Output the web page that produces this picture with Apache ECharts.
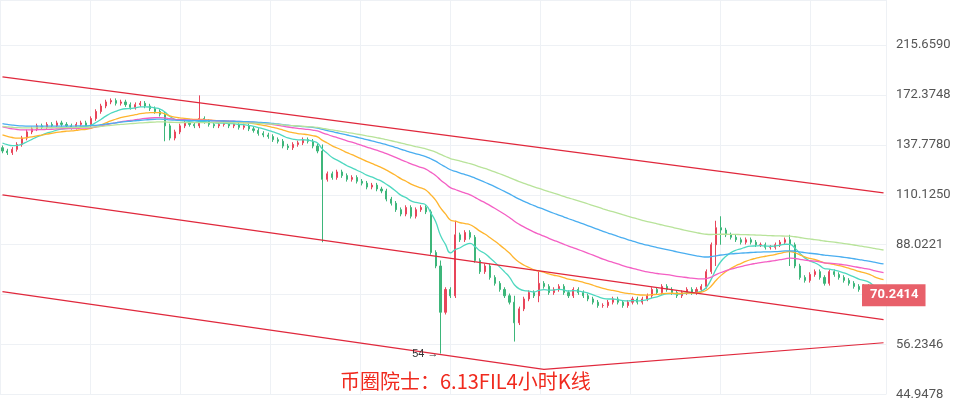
<!DOCTYPE html>
<html><head><meta charset="utf-8">
<script src="https://cdn.jsdelivr.net/npm/echarts@6/dist/echarts.min.js"></script>
<style>html,body{margin:0;padding:0;background:#fff}#c{width:956px;height:401px}</style>
</head><body><div id="c"></div>
<script>
// closing prices, 180 four-hour candles
const closes = [
134,133,135,138,142,146,148,150,149,151,
150,152,151,150,149,151,152,150,155,160,
164,167,168,166,167,165,163,165,166,164,
162,160,158,150,142,146,150,152,151,150,
155,153,151,150,151,152,150,151,149,150,
148,147,145,144,143,141,140,137,136,138,
139,141,140,137,134,118,121,119,122,120,
118,119,117,116,114,115,113,112,108,106,
103,101,104,100,103,104,102,85,80,65,
72,70,92,90,93,91,82,78,80,76,
74,72,70,68,62,66,69,71,70,74,
73,71,72,73,71,70,72,71,70,69,
68,67,67,68,69,68,67,68,69,68,
69,70,72,71,73,72,71,70,71,72,
71,72,73,78,88,95,94,92,91,90,
89,90,89,88,88,87,87,88,89,90,
88,80,76,75,77,78,76,74,78,77,
76,75,74,73,72,73,72,68,69,70.2414];
const firstOpen = 136;
// notable wick extremes: [index, low, high]
const wicks = [[40,150,172],[33,140,159],[65,89,138],[89,54,82],[92,70,98],[104,57,70],[109,68,78],[146,88,100],[145,80,98],[160,80,92],[178,67,71]];
const emaPeriods = [10,22,45,70,100];
const emaSeeds = [140,145,150,152,150];
const maColors = ['#4fd8c0','#ffb52e','#f45fc4','#4aaef0','#b8e39a'];
const channelUpper = [186.9,111.1];
const channelMiddle = [110.1,62.9];
const channelLower = [71.3,50.3,56.7]; // at idx 0, 110, 179
const tickLabels = ['44.9478','56.2346','','88.0221','110.1250','137.7780','172.3748','215.6590'];
const tickBase = 56.2346, tickRatio = 1.25111;
const titleText = '币圈院士：6.13FIL4小时K线';

const L = v => Math.log(v/tickBase)/Math.log(tickRatio);
const n = closes.length;
const cats = closes.map((_, i) => i);
const wickMap = {}; wicks.forEach(w => wickMap[w[0]] = w);
const kdata = closes.map((c, i) => {
  const o = i ? closes[i-1] : firstOpen;
  let lo = Math.min(o,c)*0.99, hi = Math.max(o,c)*1.01;
  if (wickMap[i]) { lo = Math.min(lo, wickMap[i][1]); hi = Math.max(hi, wickMap[i][2]); }
  return [L(o), L(c), L(lo), L(hi)];
});
const maSeries = emaPeriods.map((p, k) => {
  const a = 2/(p+1); let e = emaSeeds[k];
  const d = closes.map(c => { e = e + a*(c-e); return L(e); });
  return {type:'line', data:d, showSymbol:false, smooth:true, lineStyle:{width:1.3,color:maColors[k]}, z:3, silent:true};
});
function chan(vals, idxs){
  const d = new Array(n).fill(null);
  idxs.forEach((ix,j)=> d[ix] = L(vals[j]));
  return {type:'line', data:d, connectNulls:true, showSymbol:false, lineStyle:{color:'#e0283c',width:1.2}, z:4, silent:true};
}
const chart = echarts.init(document.getElementById('c'));
chart.setOption({
  animation:false,
  title:{text:titleText, left:335, top:366, textStyle:{color:'#f02a1e', fontSize:20, fontWeight:'normal', fontFamily:'Noto Sans CJK SC'}},
  grid:{left:0, right:70, top:0, bottom:6},
  xAxis:[{type:'category', data:cats, boundaryGap:true, show:false},
         {type:'value', min:-43, max:843, interval:90, show:true, axisLine:{show:false}, axisTick:{show:false}, axisLabel:{show:false}, splitLine:{show:true, lineStyle:{color:'#eef1f5'}}}],
  yAxis:{type:'value', position:'right', min:-1, max:6.9, interval:1,
    axisLine:{show:false}, axisTick:{show:false},
    splitLine:{lineStyle:{color:'#eef1f5'}},
    axisLabel:{margin:10, color:'#555', fontSize:13, fontFamily:'Roboto', showMaxLabel:false,
      formatter:v => tickLabels[Math.round(v)+1] || ''}},
  series:[
    {type:'candlestick', data:kdata, barWidth:1.6, z:2,
     itemStyle:{color:'#e8455a', color0:'#3db67a', borderColor:'#e8455a', borderColor0:'#3db67a', borderWidth:1},
     markPoint:{symbol:'circle', symbolSize:0, data:[{coord:[89, L(54)], label:{show:true, formatter:'54 →', position:'left', distance:2, color:'#333', fontSize:11}}]},
     markLine:{symbol:'none', silent:true, lineStyle:{color:'rgba(0,0,0,0)'},
       data:[{yAxis:L(closes[n-1]), label:{show:true, position:'end', distance:-24, formatter:closes[n-1].toFixed(4), color:'#fff', backgroundColor:'#e8606a', padding:[5,7,4,8], fontSize:13, fontWeight:'bold', fontFamily:'Roboto'}}]}},
    ...maSeries,
    chan(channelUpper,[0,n-1]),
    chan(channelMiddle,[0,n-1]),
    chan(channelLower,[0,110,n-1])
  ]
});
</script></body></html>
